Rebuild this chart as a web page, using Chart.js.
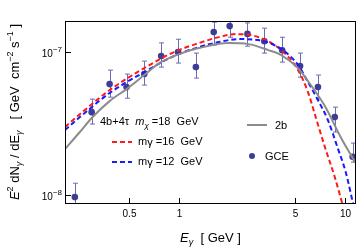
<!DOCTYPE html>
<html>
<head>
<meta charset="utf-8">
<script src="https://cdn.jsdelivr.net/npm/chart.js@4"></script>
<style>
  body { margin: 0; background: #fff; }
  #wrap { width: 360px; height: 251px; }
</style>
</head>
<body>
<div id="wrap"><canvas id="c"></canvas></div>
<script>
// ===== DATA =====

// GCE points
const gceE = [0.235, 0.297, 0.381, 0.482, 0.617, 0.780, 0.986, 1.264, 1.620, 2.021, 2.589, 3.273, 4.195, 5.377, 6.893, 8.711, 11.17];
const gceF = [9.68e-9, 3.80e-8, 5.97e-8, 5.69e-8, 7.02e-8, 9.38e-8, 1.00e-7, 7.85e-8, 1.38e-7, 1.52e-7, 1.34e-7, 1.19e-7, 1.03e-7, 7.98e-8, 5.69e-8, 3.51e-8, 1.85e-8];
const gceLo = [7.5e-9, 3.14e-8, 4.84e-8, 4.76e-8, 5.88e-8, 7.85e-8, 8.38e-8, 6.58e-8, 1.12e-7, 1.27e-7, 1.10e-7, 9.84e-8, 8.51e-8, 6.68e-8, 4.69e-8, 2.76e-8, 1.70e-8];
const gceHi = [1.21e-8, 4.69e-8, 7.48e-8, 7.02e-8, 8.65e-8, 1.16e-7, 1.23e-7, 9.84e-8, 1.62e-7, 1.80e-7, 1.60e-7, 1.47e-7, 1.27e-7, 9.84e-8, 6.91e-8, 4.12e-8, 2.31e-8];

// 4b+4tau, m = 16 GeV (red dashed)
const redE = [0.205, 0.252, 0.381, 0.617, 0.933, 1.318, 1.736, 2.194, 3.013, 4.139, 5.231, 6.003, 6.705, 7.590, 8.711, 9.727];
const redF = [2.99e-8, 3.68e-8, 5.42e-8, 7.73e-8, 1.00e-7, 1.156e-7, 1.273e-7, 1.336e-7, 1.273e-7, 1.033e-7, 7.48e-8, 5.25e-8, 3.46e-8, 2.17e-8, 1.336e-8, 8.51e-9];

// 4b+4tau, m = 12 GeV (blue dashed)
const blueE = [0.205, 0.252, 0.381, 0.617, 0.933, 1.318, 1.736, 2.287, 3.013, 4.139, 5.231, 6.003, 6.893, 7.911, 9.080, 10.14, 11.32];
const blueF = [2.85e-8, 3.51e-8, 5.17e-8, 7.25e-8, 9.38e-8, 1.084e-7, 1.175e-7, 1.233e-7, 1.213e-7, 1.050e-7, 8.11e-8, 6.17e-8, 4.62e-8, 3.35e-8, 2.13e-8, 1.448e-8, 8.38e-9];

// 2b (gray)
const grayE = [0.205, 0.252, 0.297, 0.381, 0.482, 0.617, 0.759, 1.0, 1.318, 1.993, 2.626, 3.459, 4.139, 5.231, 6.003, 7.590, 9.463, 11.64];
const grayF = [2.10e-8, 2.76e-8, 3.46e-8, 4.54e-8, 5.51e-8, 6.91e-8, 8.38e-8, 9.68e-8, 1.067e-7, 1.156e-7, 1.137e-7, 1.033e-7, 9.53e-8, 7.73e-8, 6.27e-8, 4.19e-8, 2.54e-8, 1.674e-8];

const xTicks = [0.5, 1, 5, 10];
const xTickLabels = ["0.5", "1", "5", "10"];
const yTicks = [1e-7, 1e-8];
const yTickExp = ["\u22127", "\u22128"];

const xMin = 0.205, xMax = 11.7;
const yMin = 8.8e-9, yMax = 1.65e-7;

const FONT = "'Liberation Sans', Arial, sans-serif";
const RED = "#ff1a1a";
const BLUE = "#1a1aff";
const GRAY = "#8c8c8c";
const DOT = "#3d3d99";
const BAR = "#6b6bb0";

function pairs(xs, ys) {
  return xs.map((x, i) => ({ x, y: ys[i] }));
}

function drawRuns(ctx, parts, x, y, align) {
  let w = 0;
  parts.forEach(p => { ctx.font = p[1]; w += ctx.measureText(p[0]).width; });
  let cx = align === "center" ? x - w / 2 : align === "right" ? x - w : x;
  ctx.textAlign = "left";
  ctx.textBaseline = "alphabetic";
  parts.forEach(p => {
    ctx.font = p[1];
    ctx.fillText(p[0], cx, y + (p[2] || 0));
    cx += ctx.measureText(p[0]).width;
  });
}

//
// ===== ERROR BARS =====
//

const errorBars = {
  id: "errorBars",
  beforeDatasetDraw(chart, args) {
    if (args.index !== 3) return;
    const { ctx, chartArea: a, scales: { x, y } } = chart;
    ctx.save();
    ctx.beginPath();
    ctx.rect(a.left, a.top, a.right - a.left, a.bottom - a.top);
    ctx.clip();
    ctx.strokeStyle = BAR;
    ctx.lineWidth = 1;
    gceE.forEach((e, i) => {
      const px = Math.round(x.getPixelForValue(e)) + 0.5;
      const y1 = y.getPixelForValue(gceLo[i]);
      const y2 = y.getPixelForValue(gceHi[i]);
      ctx.beginPath();
      ctx.moveTo(px, y1); ctx.lineTo(px, y2);
      ctx.moveTo(px - 2.5, y1); ctx.lineTo(px + 2.5, y1);
      ctx.moveTo(px - 2.5, y2); ctx.lineTo(px + 2.5, y2);
      ctx.stroke();
    });
    ctx.restore();
  }
};

//
// ===== FRAME, TICKS, LABELS, LEGEND =====
//

const decorations = {
  id: "decorations",
  afterDraw(chart) {
    const { ctx, chartArea: a, scales: { x, y } } = chart;
    ctx.save();
    ctx.strokeStyle = "#000";
    ctx.fillStyle = "#000";
    ctx.lineWidth = 1;

    // ticks
    xTicks.forEach((v, i) => {
      const px = Math.round(x.getPixelForValue(v)) + 0.5;
      ctx.beginPath();
      ctx.moveTo(px, a.bottom); ctx.lineTo(px, a.bottom - 5);
      ctx.stroke();
      ctx.font = "10px " + FONT;
      ctx.textAlign = "center";
      ctx.fillText(xTickLabels[i], px, a.bottom + 14);
    });
    yTicks.forEach((v, i) => {
      const py = Math.round(y.getPixelForValue(v)) + 0.5;
      ctx.beginPath();
      ctx.moveTo(a.left, py); ctx.lineTo(a.left + 6, py);
      ctx.stroke();
      drawRuns(ctx, [
        ["10", "10px " + FONT, 0],
        [yTickExp[i], "8px " + FONT, -5]
      ], a.left - 3, py + 4, "right");
    });

    // frame
    ctx.lineWidth = 1;
    ctx.strokeRect(Math.round(a.left) + 0.5, Math.round(a.top) + 0.5,
      Math.round(a.right - a.left) - 1, Math.round(a.bottom - a.top));

    // x title
    drawRuns(ctx, [
      ["E", "italic 13px " + FONT, 0],
      ["\u03b3", "italic 9px " + FONT, 3],
      ["  [ GeV ]", "13px " + FONT, 0]
    ], (a.left + a.right) / 2, 242, "center");

    // y title
    ctx.save();
    ctx.translate(19, (a.top + a.bottom) / 2);
    ctx.rotate(-Math.PI / 2);
    drawRuns(ctx, [
      ["E", "italic 13px " + FONT, 0],
      ["2", "9px " + FONT, -6],
      [" dN", "13px " + FONT, 0],
      ["\u03b3", "italic 9px " + FONT, 3],
      [" / dE", "13px " + FONT, 0],
      ["\u03b3", "italic 9px " + FONT, 3],
      ["   [ GeV  cm", "13px " + FONT, 0],
      ["\u22122", "9px " + FONT, -6],
      [" s", "13px " + FONT, 0],
      ["\u22121", "9px " + FONT, -6],
      [" ]", "13px " + FONT, 0]
    ], 0, 0, "center");
    ctx.restore();

    // legend
    drawRuns(ctx, [
      ["4b+4\u03c4  ", "11px " + FONT, 0],
      ["m", "italic 11px " + FONT, 0],
      ["\u03c7", "italic 8px " + FONT, 3],
      [" =18  GeV", "11px " + FONT, 0]
    ], 100, 125, "left");

    ctx.lineWidth = 2;
    ctx.setLineDash([5, 3]);
    ctx.strokeStyle = RED;
    ctx.beginPath(); ctx.moveTo(112, 142); ctx.lineTo(132, 142); ctx.stroke();
    ctx.strokeStyle = BLUE;
    ctx.beginPath(); ctx.moveTo(112, 162); ctx.lineTo(132, 162); ctx.stroke();
    ctx.setLineDash([]);
    ctx.strokeStyle = GRAY;
    ctx.beginPath(); ctx.moveTo(247, 125); ctx.lineTo(267, 125); ctx.stroke();

    ctx.fillStyle = "#000";
    drawRuns(ctx, [["m", "11px " + FONT, 0], ["\u03b3", "11px " + FONT, 1], [" =16  GeV", "11px " + FONT, 0]], 138, 145, "left");
    drawRuns(ctx, [["m", "11px " + FONT, 0], ["\u03b3", "11px " + FONT, 1], [" =12  GeV", "11px " + FONT, 0]], 138, 165, "left");
    drawRuns(ctx, [["2b", "11px " + FONT, 0]], 275, 129, "left");
    drawRuns(ctx, [["GCE", "11px " + FONT, 0]], 265, 160, "left");

    ctx.fillStyle = DOT;
    ctx.beginPath(); ctx.arc(252, 156, 3, 0, Math.PI * 2); ctx.fill();

    ctx.restore();
  }
};

new Chart(document.getElementById("c"), {
  type: "scatter",
  data: {
    datasets: [
      {
        label: "2b",
        data: pairs(grayE, grayF),
        showLine: true,
        borderColor: GRAY,
        borderWidth: 2,
        pointRadius: 0,
        cubicInterpolationMode: "monotone",
        clip: 0
      },
      {
        label: "m=12 GeV",
        data: pairs(blueE, blueF),
        showLine: true,
        borderColor: BLUE,
        borderWidth: 2,
        borderDash: [5, 3],
        pointRadius: 0,
        cubicInterpolationMode: "monotone",
        clip: 0
      },
      {
        label: "m=16 GeV",
        data: pairs(redE, redF),
        showLine: true,
        borderColor: RED,
        borderWidth: 2,
        borderDash: [5, 3],
        pointRadius: 0,
        cubicInterpolationMode: "monotone",
        clip: 0
      },
      {
        label: "GCE",
        data: pairs(gceE, gceF),
        showLine: false,
        pointRadius: 3.3,
        pointBackgroundColor: DOT,
        pointBorderWidth: 0,
        clip: false
      }
    ]
  },
  options: {
    responsive: true,
    maintainAspectRatio: false,
    animation: false,
    layout: { padding: { left: 65, top: 21, right: 2, bottom: 48 } },
    plugins: { legend: { display: false }, tooltip: { enabled: false } },
    scales: {
      x: {
        type: "logarithmic",
        display: false,
        bounds: "data",
        min: xMin,
        max: xMax,
        afterBuildTicks: s => { s.min = xMin; s.max = xMax; }
      },
      y: {
        type: "logarithmic",
        display: false,
        bounds: "data",
        min: yMin,
        max: yMax,
        afterBuildTicks: s => { s.min = yMin; s.max = yMax; }
      }
    }
  },
  plugins: [errorBars, decorations]
});
</script>
</body>
</html>
